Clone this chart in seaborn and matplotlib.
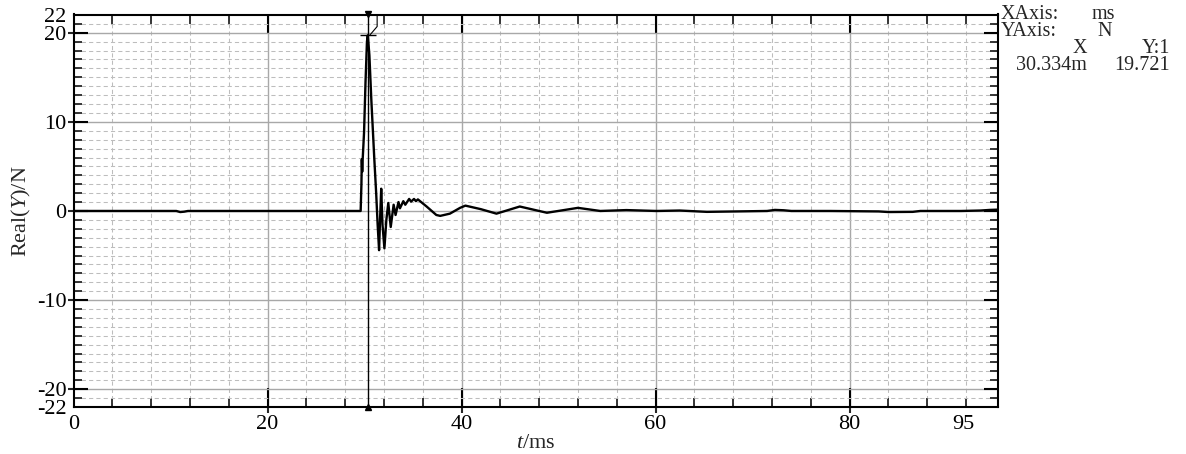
import numpy as np
import pandas as pd
import matplotlib
matplotlib.use("Agg")
import matplotlib.pyplot as plt
import seaborn as sns
from matplotlib.ticker import MultipleLocator, NullLocator

sns.set_theme(style="ticks")
plt.rcParams["font.family"] = ["Liberation Serif", "DejaVu Serif"]
plt.rcParams["mathtext.fontset"] = "custom"
plt.rcParams["mathtext.rm"] = "Liberation Serif"
plt.rcParams["mathtext.it"] = "Liberation Serif:italic"

# %% data (time in ms, force in N)
time_ms = [0.0, 10.6, 11.0, 11.4, 11.8, 29.6, 29.68, 29.72, 29.76, 29.8,
           29.95, 30.1, 30.25, 30.334, 30.5, 30.7, 31.0, 31.2, 31.35, 31.5,
           31.6, 31.72, 31.85, 32.05, 32.25, 32.45, 32.7, 33.0, 33.2, 33.5,
           33.65, 34.0, 34.2, 34.6, 34.8, 35.1, 35.3, 35.5, 36.4, 37.4,
           37.8, 38.8, 39.85, 40.4, 42.0, 43.6, 46.0, 48.8, 52.0, 54.3,
           57.0, 60.1, 62.5, 65.3, 68.4, 71.5, 72.3, 73.2, 74.0, 78.0,
           83.0, 84.0, 86.5, 87.3, 91.5, 93.5, 94.5, 95.3]
force_n = [0.0, 0.0, -0.12, -0.08, 0.0, 0.0, 3.0, 5.8, 4.4, 5.6,
           8.8, 14.4, 19.0, 19.72, 17.5, 12.5, 6.0, 2.0, -1.5, -4.4,
           -1.0, 2.5, -1.5, -4.2, -1.0, 0.9, -1.8, 0.7, -0.45, 1.0,
           0.3, 1.1, 0.7, 1.35, 1.05, 1.35, 1.1, 1.3, 0.5, -0.45,
           -0.55, -0.3, 0.35, 0.6, 0.2, -0.3, 0.5, -0.2, 0.35, 0.0,
           0.1, 0.0, 0.05, -0.1, -0.05, 0.0, 0.12, 0.08, 0.0, 0.0,
           -0.05, -0.12, -0.1, 0.0, 0.0, 0.05, 0.12, 0.15]

x_ticks = [0, 20, 40, 60, 80, 91.7]
x_ticklabels = ["0", "20", "40", "60", "80", "95"]
y_ticks = [-22, -20, -10, 0, 10, 20, 22]
y_ticklabels = ["-22", "-20", "-10", "0", "10", "20", "22"]

cursor_x = 30.334
cursor_y = 19.721

df = pd.DataFrame({"t": time_ms, "F": force_n})

# %% figure
W, H = 1186, 454
fig = plt.figure(figsize=(W / 100, H / 100), dpi=100)
fig.patch.set_facecolor("white")
ax = fig.add_axes([73.5 / W, 1 - 407 / H, (998 - 73.5) / W, (407 - 14.5) / H])

ax.set_xlim(0, 95.3)
ax.set_ylim(-22, 22.05)
ax.set_axisbelow(True)

ax.set_xticks(x_ticks)
ax.set_xticklabels(x_ticklabels)
ax.xaxis.set_minor_locator(MultipleLocator(4))
ax.set_yticks(y_ticks)
ax.set_yticklabels(y_ticklabels)
ax.yaxis.set_minor_locator(MultipleLocator(1))

ax.grid(which="major", color="#a8a8a8", lw=1.0, ls="-")
ax.grid(which="minor", color="#bdbdbd", lw=0.75, ls=(0, (4, 3)))

ax.tick_params(axis="x", which="major", direction="in", length=14, width=1.5,
               top=True, bottom=True, labelsize=16, pad=6, colors="black")
ax.tick_params(axis="x", which="minor", direction="in", length=6.5, width=1.3,
               top=True, bottom=True)
ax.tick_params(axis="y", which="major", direction="in", length=10, width=1.5,
               left=True, right=True, labelsize=16, pad=5, colors="black")
ax.tick_params(axis="y", which="minor", direction="in", length=5.5, width=1.3,
               left=True, right=True)

# no tick marks / grid for the edge labels
for tk in [ax.xaxis.get_major_ticks()[0], ax.xaxis.get_major_ticks()[-1],
           ax.yaxis.get_major_ticks()[0], ax.yaxis.get_major_ticks()[-1]]:
    tk.tick1line.set_visible(False)
    tk.tick2line.set_visible(False)
    tk.gridline.set_visible(False)

for sp in ax.spines.values():
    sp.set_color("black")
    sp.set_linewidth(1.5)

# short outward stubs on the major ticks
secx = ax.secondary_xaxis("bottom")
secx.set_xticks([20, 40, 60, 80])
secx.xaxis.set_minor_locator(NullLocator())
secx.tick_params(direction="out", length=4, width=1.5, labelbottom=False)
secy = ax.secondary_yaxis("left")
secy.set_yticks([-20, -10, 0, 10, 20])
secy.yaxis.set_minor_locator(NullLocator())
secy.tick_params(direction="out", length=4, width=1.5, labelleft=False)

# signal
sns.lineplot(data=df, x="t", y="F", ax=ax, color="black", lw=1.7,
             sort=False, estimator=None)

# cursor
ax.axvline(cursor_x, color="black", lw=1.0)
ax.plot([cursor_x], [22.05], marker="v", ms=5, color="black", clip_on=False)
ax.plot([cursor_x], [-22], marker="^", ms=4, color="black", clip_on=False)
ax.plot([cursor_x], [cursor_y], marker="_", ms=12, mew=1.0, color="black")
ax.plot([cursor_x + 0.2, 31.3, 31.3], [cursor_y, 20.7, 22.05],
        color="black", lw=0.8)

ax.set_xlabel("$t$/ms", fontsize=16, labelpad=0)
ax.set_ylabel("Real($Y$)/N", fontsize=16, labelpad=3)

# readout at the right
fs = 14.5
def fy(y):
    return 1 - y / H
fig.text(1001 / W, fy(19), "XAxis:", fontsize=fs, ha="left", va="baseline")
fig.text(1092 / W, fy(19), "ms", fontsize=fs, ha="left", va="baseline")
fig.text(1001 / W, fy(36), "YAxis:", fontsize=fs, ha="left", va="baseline")
fig.text(1097 / W, fy(36), "N", fontsize=fs, ha="left", va="baseline")
fig.text(1080 / W, fy(53), "X", fontsize=fs, ha="center", va="baseline")
fig.text(1170 / W, fy(53), "Y:1", fontsize=fs, ha="right", va="baseline")
fig.text(1087 / W, fy(70), f"{cursor_x:.3f}m", fontsize=fs, ha="right", va="baseline")
fig.text(1170 / W, fy(70), f"{cursor_y:.3f}", fontsize=fs, ha="right", va="baseline")

plt.savefig("out.png", dpi=100, facecolor="white")
